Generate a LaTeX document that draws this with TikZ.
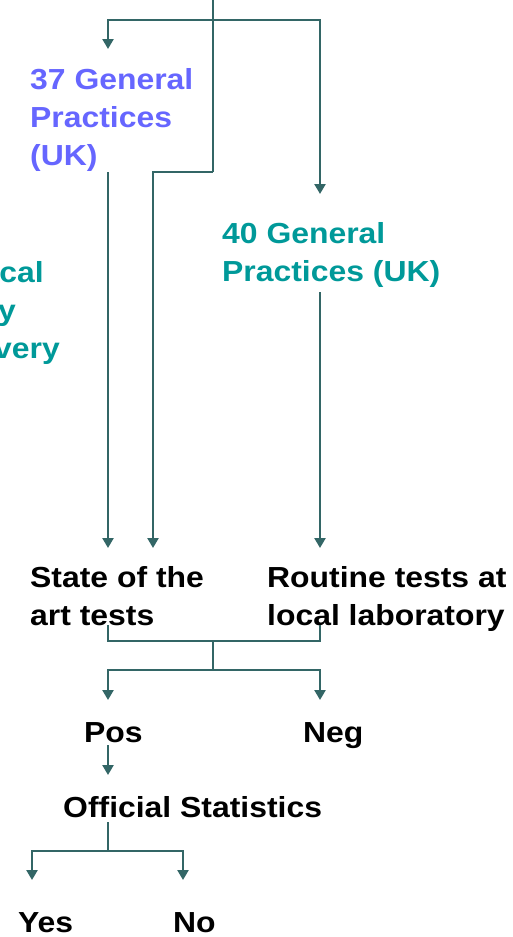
\documentclass[tikz,border=0pt]{standalone}
\usepackage{fontspec}
\setmainfont[FakeStretch=1.1]{Liberation Sans}
\usetikzlibrary{arrows.meta}
\definecolor{linec}{HTML}{336666}
\definecolor{bluet}{HTML}{6666FF}
\definecolor{tealt}{HTML}{009999}
\begin{document}
\begin{tikzpicture}[x=1pt,y=-1pt,
  lbl/.style={font=\fontsize{29}{38}\selectfont\bfseries, inner sep=0pt, anchor=base west, align=left},
  conn/.style={draw=linec, line width=2.8pt},
  arr/.style={conn, -{Triangle[width=11pt,length=10pt]}}]
\useasboundingbox (0,0) rectangle (512,937);

% text nodes (base anchor = baseline of the last line)
\node[lbl, text=bluet] (gp37) at (30,165) {37 General\\Practices\\(UK)};
\node[lbl, text=tealt] (gp40) at (222,281) {40 General\\Practices (UK)};
\node[lbl, text=tealt, anchor=base east] (lc1) at (44,282) {cal};
\node[lbl, text=tealt, anchor=base east] (lc2) at (16,320) {y};
\node[lbl, text=tealt, anchor=base east] (lc3) at (60,358) {very};
\node[lbl] (sota) at (30,625) {State of the\\art tests};
\node[lbl] (rout) at (267,625) {Routine tests at\\local laboratory};
\node[lbl] (pos) at (84,742) {Pos};
\node[lbl] (neg) at (303,742) {Neg};
\node[lbl] (off) at (63,817) {Official Statistics};
\node[lbl] (yes) at (18,932) {Yes};
\node[lbl] (no) at (173,932) {No};

% connector points
\coordinate (top) at (213,0);
\coordinate (split) at (213,20);
\coordinate (in37) at (108,49);
\coordinate (in40) at (320,194);
\coordinate (bend) at (213,172);
\coordinate (out37) at (108,172);
\coordinate (out40) at (320,292);
\coordinate (insota1) at (108,548);
\coordinate (insota2) at (153,548);
\coordinate (inrout) at (320,548);
\coordinate (outsota) at (108,625);
\coordinate (outrout) at (320,625);
\coordinate (join) at (213,641);
\coordinate (fork) at (213,670);
\coordinate (inpos) at (108,700);
\coordinate (inneg) at (320,700);
\coordinate (outpos) at (108,745);
\coordinate (inoff) at (108,775);
\coordinate (outoff) at (108,822);
\coordinate (fork2) at (108,851);
\coordinate (inyes) at (32,880);
\coordinate (inno) at (183,880);

% connectors
\draw[conn] (top) -- (bend);
\draw[arr] (split) -| (in37);
\draw[arr] (split) -| (in40);
\draw[arr] (bend) -| (insota2);
\draw[arr] (out37) -- (insota1);
\draw[arr] (out40) -- (inrout);
\draw[conn] (outsota) |- (join) -| (outrout);
\draw[conn] (join) -- (fork);
\draw[arr] (fork) -| (inpos);
\draw[arr] (fork) -| (inneg);
\draw[arr] (outpos) -- (inoff);
\draw[conn] (outoff) -- (fork2);
\draw[arr] (fork2) -| (inyes);
\draw[arr] (fork2) -| (inno);
\end{tikzpicture}
\end{document}
